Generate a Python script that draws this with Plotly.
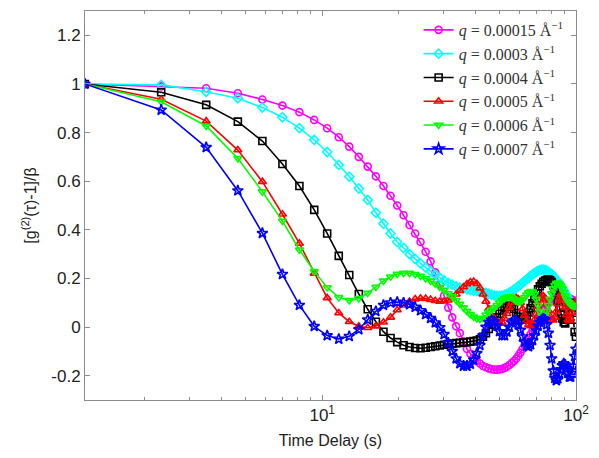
import plotly.graph_objects as go

# Lag times (s)
time_delay = [1.16, 2.32, 3.49, 4.65, 5.81, 6.97, 8.13, 9.30, 10.46, 11.62,
              12.78, 13.94, 15.11, 16.27, 17.43, 18.59, 19.75, 20.92, 22.08, 23.24,
              24.40, 25.56, 26.73, 27.89, 29.05, 30.21, 31.37, 32.54, 33.70, 34.86,
              36.02, 37.18, 38.35, 39.51, 40.67, 41.83, 42.99, 44.16, 45.32, 46.48,
              47.64, 48.80, 49.97, 51.13, 52.29, 53.45, 54.61, 55.78, 56.94, 58.10,
              59.26, 60.42, 61.59, 62.75, 63.91, 65.07, 66.23, 67.40, 68.56, 69.72,
              70.88, 72.04, 73.21, 74.37, 75.53, 76.69, 77.85, 79.02, 80.18, 81.34,
              82.50, 83.66, 84.83, 85.99, 87.15, 88.31, 89.47, 90.64, 91.80, 92.96,
              94.12, 95.28, 96.45, 97.61, 98.77, 99.93]

g_q00015 = [1.0, 0.99, 0.982, 0.962, 0.936, 0.911, 0.884, 0.852, 0.818, 0.781,
            0.742, 0.70, 0.66, 0.62, 0.58, 0.54, 0.50, 0.46, 0.42, 0.385,
            0.35, 0.31, 0.27, 0.225, 0.175, 0.13, 0.08, 0.04, 0.003, -0.025,
            -0.06, -0.09, -0.11, -0.125, -0.14, -0.15, -0.16, -0.165, -0.17, -0.173,
            -0.175, -0.175, -0.174, -0.172, -0.168, -0.163, -0.156, -0.148, -0.14, -0.13,
            -0.118, -0.105, -0.09, -0.075, -0.06, -0.045, -0.03, -0.015, 0.0, 0.015,
            0.03, 0.045, 0.058, 0.07, 0.08, 0.09, 0.097, 0.103, 0.108, 0.112,
            0.115, 0.118, 0.12, 0.122, 0.123, 0.124, 0.124, 0.123, 0.122, 0.12,
            0.118, 0.115, 0.112, 0.11, 0.108, 0.105]

g_q0003 = [1.0, 0.996, 0.968, 0.941, 0.903, 0.863, 0.818, 0.77, 0.72, 0.667,
           0.619, 0.57, 0.523, 0.47, 0.425, 0.385, 0.35, 0.325, 0.30, 0.28,
           0.262, 0.245, 0.23, 0.215, 0.203, 0.192, 0.182, 0.174, 0.167, 0.162,
           0.158, 0.155, 0.152, 0.15, 0.148, 0.146, 0.143, 0.14, 0.137, 0.133,
           0.13, 0.128, 0.128, 0.129, 0.132, 0.136, 0.141, 0.147, 0.154, 0.161,
           0.168, 0.175, 0.182, 0.189, 0.196, 0.203, 0.21, 0.216, 0.222, 0.227,
           0.231, 0.234, 0.236, 0.236, 0.235, 0.232, 0.228, 0.223, 0.217, 0.21,
           0.203, 0.195, 0.187, 0.178, 0.169, 0.16, 0.15, 0.14, 0.13, 0.12,
           0.11, 0.10, 0.092, 0.085, 0.08, 0.075]

g_q0004 = [1.0, 0.966, 0.914, 0.845, 0.765, 0.671, 0.58, 0.482, 0.385, 0.293,
           0.214, 0.136, 0.073, 0.022, -0.019, -0.045, -0.062, -0.075, -0.082, -0.086,
           -0.087, -0.085, -0.082, -0.079, -0.076, -0.073, -0.07, -0.068, -0.066, -0.065,
           -0.063, -0.062, -0.06, -0.058, -0.055, -0.05, -0.04, -0.025, -0.008, 0.01,
           0.025, 0.04, 0.055, 0.068, 0.078, 0.085, 0.088, 0.085, 0.075, 0.058,
           0.042, 0.032, 0.03, 0.035, 0.045, 0.06, 0.078, 0.098, 0.118, 0.138,
           0.155, 0.168, 0.178, 0.186, 0.191, 0.194, 0.195, 0.192, 0.185, 0.172,
           0.155, 0.133, 0.108, 0.08, 0.055, 0.035, 0.02, 0.015, 0.03, 0.06,
           0.09, 0.10, 0.08, 0.03, -0.02, -0.04]

g_q0005 = [1.0, 0.937, 0.847, 0.728, 0.598, 0.464, 0.344, 0.221, 0.12, 0.058,
           0.022, 0.003, -0.003, 0.004, 0.02, 0.04, 0.07, 0.09, 0.105, 0.115,
           0.118, 0.117, 0.113, 0.108, 0.105, 0.106, 0.11, 0.12, 0.135, 0.15,
           0.165, 0.177, 0.185, 0.187, 0.178, 0.16, 0.135, 0.105, 0.075, 0.05,
           0.032, 0.02, 0.015, 0.02, 0.035, 0.055, 0.08, 0.10, 0.115, 0.12,
           0.115, 0.10, 0.075, 0.048, 0.025, 0.01, 0.005, 0.012, 0.03, 0.055,
           0.085, 0.11, 0.125, 0.128, 0.118, 0.095, 0.068, 0.045, 0.03, 0.028,
           0.04, 0.065, 0.095, 0.12, 0.135, 0.13, 0.11, 0.08, 0.05, 0.03,
           0.025, 0.035, 0.06, 0.085, 0.10, 0.10]

g_q0006 = [1.0, 0.927, 0.827, 0.694, 0.557, 0.436, 0.318, 0.229, 0.163, 0.122,
           0.11, 0.118, 0.14, 0.165, 0.19, 0.207, 0.218, 0.222, 0.222, 0.217,
           0.21, 0.20, 0.19, 0.178, 0.165, 0.152, 0.138, 0.125, 0.11, 0.095,
           0.08, 0.065, 0.052, 0.042, 0.035, 0.033, 0.037, 0.05, 0.06, 0.07,
           0.08, 0.09, 0.10, 0.11, 0.118, 0.123, 0.125, 0.122, 0.115, 0.107,
           0.103, 0.105, 0.112, 0.122, 0.133, 0.142, 0.147, 0.145, 0.135, 0.115,
           0.09, 0.065, 0.048, 0.042, 0.048, 0.065, 0.09, 0.115, 0.138, 0.158,
           0.172, 0.18, 0.182, 0.178, 0.17, 0.158, 0.143, 0.128, 0.115, 0.105,
           0.098, 0.093, 0.09, 0.088, 0.087, 0.087]

g_q0007 = [1.0, 0.893, 0.739, 0.561, 0.386, 0.217, 0.09, 0.003, -0.035, -0.049,
           -0.038, -0.01, 0.03, 0.065, 0.09, 0.10, 0.103, 0.10, 0.093, 0.082,
           0.068, 0.052, 0.036, 0.018, -0.002, -0.03, -0.065, -0.10, -0.13, -0.15,
           -0.16, -0.16, -0.152, -0.135, -0.108, -0.075, -0.035, 0.0, 0.02, 0.028,
           0.022, 0.005, -0.018, -0.035, -0.035, -0.02, 0.0, 0.018, 0.028, 0.025,
           0.01, -0.012, -0.04, -0.062, -0.077, -0.08, -0.072, -0.055, -0.035, -0.015,
           0.005, 0.02, 0.03, 0.035, 0.03, 0.01, -0.025, -0.075, -0.13, -0.18,
           -0.21, -0.22, -0.212, -0.195, -0.175, -0.158, -0.15, -0.155, -0.17, -0.19,
           -0.205, -0.205, -0.19, -0.16, -0.12, -0.09]

series_names = ["0.00015", "0.0003", "0.0004", "0.0005", "0.0006", "0.0007"]
series_values = [g_q00015, g_q0003, g_q0004, g_q0005, g_q0006, g_q0007]
colors = ["#FF00FF", "#00FFFF", "#000000", "#FF0000", "#00FF00", "#0000FF"]
symbols = ["circle-open", "diamond-open", "square-open", "triangle-up-open",
           "triangle-down-open", "star-open"]
sizes = [7, 7, 7, 7, 7, 8]

y_tickvals = [-0.2, 0, 0.2, 0.4, 0.6, 0.8, 1, 1.2]
y_ticktext = ["-0.2", "0", "0.2", "0.4", "0.6", "0.8", "1", "1.2"]
x_tickvals = [10, 100]
x_ticktext = ["10<sup>1</sup>", "10<sup>2</sup>"]

fig = go.Figure()
for name, vals, col, sym, sz in zip(series_names, series_values, colors, symbols, sizes):
    fig.add_trace(go.Scatter(
        x=time_delay, y=vals, mode="lines+markers",
        name=f"<i>q</i> = {name} Å<sup>−1</sup>",
        line=dict(color=col, width=1.6),
        marker=dict(symbol=sym, size=sz, color=col, line=dict(color=col, width=1.6)),
    ))

axis_col = "#8c8c8c"
fig.update_layout(
    width=599, height=458,
    margin=dict(l=85, r=20, t=10, b=58),
    paper_bgcolor="white", plot_bgcolor="white",
    font=dict(family="Liberation Sans, Arial, sans-serif", color="#222222"),
    showlegend=True,
    legend=dict(
        x=0.985, y=0.995, xanchor="right", yanchor="top",
        bgcolor="rgba(0,0,0,0)", borderwidth=0,
        font=dict(family="Liberation Serif, DejaVu Serif, serif", size=16, color="#333333"),
        tracegroupgap=0, itemwidth=30,
    ),
    xaxis=dict(
        type="log", range=[0.0652, 2.0],
        tickvals=x_tickvals, ticktext=x_ticktext,
        ticks="inside", ticklen=5, tickcolor=axis_col,
        showline=True, linecolor=axis_col, linewidth=1, mirror="allticks",
        showgrid=False, zeroline=False,
        tickfont=dict(size=17),
        minor=dict(ticks="inside", ticklen=3, tickcolor=axis_col, dtick="D1", showgrid=False),
        title=dict(text="Time Delay (s)", font=dict(size=16), standoff=10),
    ),
    yaxis=dict(
        range=[-0.3, 1.3],
        tickvals=y_tickvals, ticktext=y_ticktext,
        ticks="inside", ticklen=5, tickcolor=axis_col,
        showline=True, linecolor=axis_col, linewidth=1, mirror="allticks",
        showgrid=False, zeroline=False,
        tickfont=dict(size=17),
        title=dict(text="[g<sup>(2)</sup>(τ)-1]/β", font=dict(size=16), standoff=10),
    ),
)

fig.write_html("out.html")
